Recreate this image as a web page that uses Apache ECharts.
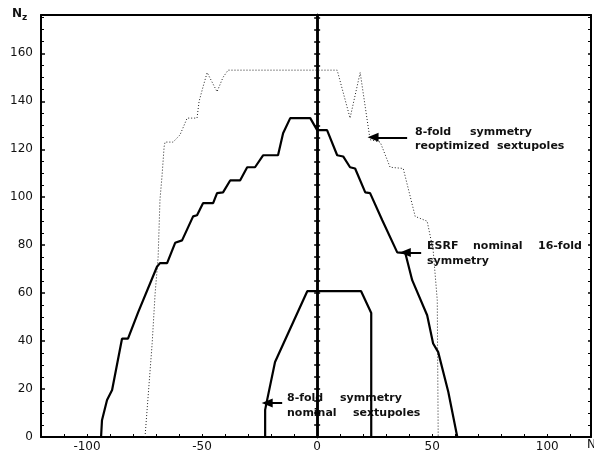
<!DOCTYPE html>
<html>
<head>
<meta charset="utf-8">
<script src="https://cdn.jsdelivr.net/npm/echarts@6/dist/echarts.min.js"></script>
<style>html,body{margin:0;padding:0;background:#fff;}#c{width:594px;height:459px;}</style>
</head>
<body>
<div id="c"></div>
<script>
// Tick labels
const xTickLabels = [-100, -50, 0, 50, 100];
const yTickLabels = [0, 20, 40, 60, 80, 100, 120, 140, 160];

// 8-fold symmetry, reoptimized sextupoles (dotted)
const reoptimizedPts = [
  [-74.8, 0], [-71.7, 39], [-70.4, 60], [-69.1, 75], [-68.3, 99], [-67.4, 109],
  [-66.5, 121], [-66.1, 123], [-62.6, 123], [-59.6, 126], [-56.5, 133], [-52.2, 133],
  [-51.3, 140], [-49.6, 146], [-47.8, 152], [-43.5, 144], [-40.9, 150], [-38.7, 153],
  [8.7, 153], [14.3, 133], [18.7, 152], [23, 124], [27.4, 123], [31.7, 112.5],
  [37.4, 112], [42.6, 92], [47.8, 90], [50.4, 78], [52.2, 57], [52.6, 0]
];

// ESRF nominal 16-fold symmetry (thick)
const esrfPts = [
  [-93.9, 0], [-93.5, 7], [-91.3, 15.4], [-89.1, 19.6], [-84.8, 41], [-82.2, 41],
  [-77.8, 52], [-69.6, 71], [-68.3, 72.5], [-65.2, 72.5], [-61.7, 81], [-58.7, 82],
  [-53.9, 92], [-52.2, 92.5], [-49.6, 97.5], [-45.2, 97.5], [-43.5, 101.7], [-40.9, 102],
  [-37.8, 107], [-33.5, 107], [-30.4, 112.5], [-27, 112.5], [-23.5, 117.5], [-17, 117.5],
  [-14.8, 126.7], [-11.7, 133], [-3, 133], [0, 128], [4.3, 128], [8.7, 117.5],
  [11.3, 117], [14.3, 112.5], [16.5, 112], [20.9, 102], [23, 101.7], [28.3, 90.4],
  [34.8, 77], [38.3, 76.7], [41.3, 65.4], [47.8, 50.8], [50.4, 39], [52.6, 35.4],
  [57, 18.8], [60.9, 0]
];

// 8-fold symmetry, nominal sextupoles (thick inner)
const nominalPts = [
  [-22.6, 0], [-22.6, 11.3], [-22.2, 13.3], [-18.3, 31.3], [-4.3, 60.8],
  [19.1, 60.8], [23.5, 51.7], [23.5, 0]
];

// Annotation arrows [tailX, headX, y] in data units
const arrowReopt = [39.1, 24.3, 125];
const arrowEsrf = [45.2, 38.3, 77];
const arrowNominal = [-15.2, -21.7, 14.2];

// Annotation words: [text, left px, top px]
const annotationWords = [
  ['8-fold', 415, 127], ['symmetry', 470, 127],
  ['reoptimized', 415, 141], ['sextupoles', 497, 141],
  ['ESRF', 427, 241], ['nominal', 473, 241], ['16-fold', 538, 241],
  ['symmetry', 427, 256],
  ['8-fold', 287, 393], ['symmetry', 340, 393],
  ['nominal', 287, 408], ['sextupoles', 353, 408]
];

const chart = echarts.init(document.getElementById('c'), null, {renderer: 'canvas'});
const txtColor = '#111';
const annFont = 'bold 11px "DejaVu Sans"';

function arrowLine(a) {
  return {
    silent: true,
    animation: false,
    label: {show: false},
    lineStyle: {color: '#000', width: 2, type: 'solid'},
    symbolSize: [9, 11],
    data: [[
      {coord: [a[0], a[2]], symbol: 'none'},
      {coord: [a[1], a[2]], symbol: 'triangle', symbolRotate: 90}
    ]]
  };
}

const yMin = 0, yMax = 176, xMin = -120, xMax = 119;

const graphics = [
  {type: 'text', x: 12, y: 8, style: {text: 'N', font: 'bold 12px "DejaVu Sans"', fill: txtColor}},
  {type: 'text', x: 22, y: 13, style: {text: 'z', font: 'bold 9px "DejaVu Sans"', fill: txtColor}},
  {type: 'text', x: 587, y: 439, style: {text: 'N', font: '12px "DejaVu Sans"', fill: txtColor}}
];
annotationWords.forEach(w => graphics.push(
  {type: 'text', x: w[1], y: w[2], style: {text: w[0], font: annFont, fill: txtColor}}
));

const option = {
  animation: false,
  backgroundColor: '#fff',
  grid: {left: 41, right: 3, top: 15, bottom: 22, show: false},
  xAxis: [{
    type: 'value', min: xMin, max: xMax, interval: 10, position: 'bottom',
    axisLine: {onZero: false, lineStyle: {color: '#000', width: 2}},
    axisTick: {show: true, inside: true, length: 3, lineStyle: {color: '#000', width: 1}},
    splitLine: {show: false},
    axisLabel: {
      color: txtColor, fontFamily: 'DejaVu Sans', fontSize: 12, margin: 4,
      formatter: v => xTickLabels.indexOf(v) >= 0 ? String(v) : ''
    }
  }, {
    type: 'value', min: xMin, max: xMax, position: 'top',
    axisLine: {show: true, onZero: false, lineStyle: {color: '#000', width: 2}},
    axisTick: {show: false}, axisLabel: {show: false}, splitLine: {show: false}
  }],
  yAxis: [{
    type: 'value', min: yMin, max: yMax, interval: 20, position: 'left',
    axisLine: {show: true, onZero: false, lineStyle: {color: '#000', width: 2}},
    axisTick: {show: true, inside: true, length: 4, lineStyle: {color: '#000', width: 1.5}},
    minorTick: {show: true, splitNumber: 4, length: 3, lineStyle: {color: '#000', width: 1}},
    splitLine: {show: false},
    axisLabel: {
      color: txtColor, fontFamily: 'DejaVu Sans', fontSize: 12, margin: 8,
      formatter: v => yTickLabels.indexOf(v) >= 0 ? String(v) : ''
    }
  }, {
    type: 'value', min: yMin, max: yMax, interval: 20, position: 'right',
    axisLine: {show: true, onZero: false, lineStyle: {color: '#000', width: 2}},
    axisTick: {show: true, inside: true, length: 3, lineStyle: {color: '#000', width: 1.5}},
    minorTick: {show: true, splitNumber: 4, length: 3, lineStyle: {color: '#000', width: 1}},
    axisLabel: {show: false}, splitLine: {show: false}
  }, {
    type: 'value', min: yMin, max: yMax, interval: 20, position: 'left',
    axisLine: {show: true, onZero: true, lineStyle: {color: '#000', width: 2.5}},
    axisTick: {show: true, inside: true, length: 3, lineStyle: {color: '#000', width: 1.5}},
    minorTick: {show: true, splitNumber: 4, length: 3, lineStyle: {color: '#000', width: 1.5}},
    axisLabel: {show: false}, splitLine: {show: false}
  }, {
    type: 'value', min: yMin, max: yMax, interval: 20, position: 'left',
    axisLine: {show: true, onZero: true, lineStyle: {color: '#000', width: 2.5}},
    axisTick: {show: true, inside: false, length: 3, lineStyle: {color: '#000', width: 1.5}},
    minorTick: {show: true, splitNumber: 4, length: 3, lineStyle: {color: '#000', width: 1.5}},
    axisLabel: {show: false}, splitLine: {show: false}
  }],
  series: [{
    name: '8-fold symmetry reoptimized sextupoles',
    type: 'line', xAxisIndex: 0, yAxisIndex: 0, data: reoptimizedPts,
    symbol: 'none', silent: true,
    lineStyle: {color: '#222', width: 1, type: [1, 2]},
    markLine: arrowLine(arrowReopt)
  }, {
    name: 'ESRF nominal 16-fold symmetry',
    type: 'line', xAxisIndex: 0, yAxisIndex: 0, data: esrfPts,
    symbol: 'none', silent: true,
    lineStyle: {color: '#000', width: 2.2},
    markLine: arrowLine(arrowEsrf)
  }, {
    name: '8-fold symmetry nominal sextupoles',
    type: 'line', xAxisIndex: 0, yAxisIndex: 0, data: nominalPts,
    symbol: 'none', silent: true,
    lineStyle: {color: '#000', width: 2.2},
    markLine: arrowLine(arrowNominal)
  }],
  graphic: graphics
};
chart.setOption(option);
</script>
</body>
</html>
